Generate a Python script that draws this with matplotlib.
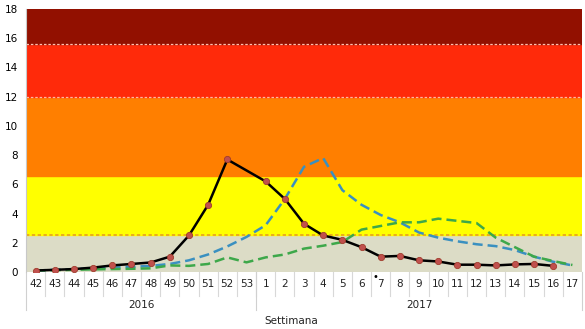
import matplotlib
matplotlib.use('Agg')
from matplotlib import pyplot as plt
import numpy as np

plt.rcParams['font.family'] = ['DejaVu Sans']

# settimane (asse x)
settimane = ['42', '43', '44', '45', '46', '47', '48', '49', '50', '51', '52', '53',
             '1', '2', '3', '4', '5', '6', '7', '8', '9', '10', '11', '12', '13',
             '14', '15', '16', '17']

# stagione corrente (linea nera), None = settimana senza dato
stagione_2016_17 = [0.1, 0.15, 0.2, 0.3, 0.45, 0.55, 0.65, 1.05, 2.5, 4.6, 7.7, None,
                    6.2, 5.0, 3.3, 2.5, 2.2, 1.7, 1.05, 1.1, 0.8, 0.72, 0.5, 0.5, 0.45,
                    0.52, 0.55, 0.42, None]

# stagioni precedenti (tratteggiate)
stagione_blu = [0.1, 0.15, 0.2, 0.25, 0.3, 0.35, 0.42, 0.55, 0.8, 1.2, 1.75, 2.4,
                3.2, 5.0, 7.2, 7.8, 5.6, 4.6, 3.9, 3.4, 2.7, 2.35, 2.1, 1.9, 1.77,
                1.5, 1.05, 0.7, 0.45]
stagione_verde = [0.1, 0.12, 0.15, 0.18, 0.2, 0.22, 0.25, 0.45, 0.42, 0.55, 1.0, 0.66,
                  1.0, 1.2, 1.6, 1.8, 2.05, 2.9, 3.15, 3.4, 3.4, 3.65, 3.5, 3.35, 2.35,
                  1.7, 1.05, 0.75, 0.48]

# soglie di intensita'
soglie = [0, 2.5, 6.6, 12, 15.6, 18]
colori_soglie = ['#dcdcc6', '#ffff00', '#ff7f00', '#ff2a0a', '#921000']

fig = plt.figure(figsize=(5.85, 3.29), dpi=100)
ax = fig.add_axes([26 / 585, 1 - 272 / 329, 556 / 585, 263 / 329])

for lo, hi, c in zip(soglie[:-1], soglie[1:], colori_soglie):
    ax.axhspan(lo, hi, color=c, zorder=0)
ax.axhline(2.5, color='#e8a020', lw=1.2, ls=(0, (2, 1.5)), zorder=1)
ax.axhline(12, color='#ffb8a0', lw=0.9, ls=(0, (2, 1.5)), zorder=1)
ax.axhline(15.6, color='#ffc0b0', lw=0.9, ls=(0, (2, 1.5)), zorder=1)

x = np.arange(len(settimane))
ax.plot(x, stagione_blu, color='#3a90c0', lw=1.8, ls=(0, (4, 2)), zorder=2)
ax.plot(x, stagione_verde, color='#3da84a', lw=1.8, ls=(0, (4, 2)), zorder=2)

y_cur = np.array([np.nan if v is None else v for v in stagione_2016_17])
ok = ~np.isnan(y_cur)
ax.plot(x[ok], y_cur[ok], color='black', lw=1.8, zorder=3)
ax.plot(x[ok], y_cur[ok], 'o', ms=4.5, mfc='#c0504d', mec='#a03c2c', mew=0.6, zorder=4)

ax.set_xlim(-0.5, len(settimane) - 0.5)
ax.set_ylim(0, 18)
ax.set_yticks(range(0, 19, 2))
ax.tick_params(axis='y', length=0, labelsize=7.5, pad=6)
ax.set_xticks([])
for s in ['top', 'right', 'bottom']:
    ax.spines[s].set_visible(False)
ax.spines['left'].set_color('#c8c8c8')

# asse categorie a due livelli
tr = ax.get_xaxis_transform()
for i, lab in enumerate(settimane):
    ax.text(i, -0.045, lab, transform=tr, ha='center', va='center', fontsize=7.5, color='#222222')
for i in range(1, len(settimane)):
    ax.plot([i - 0.5, i - 0.5], [0, -0.09], transform=tr, color='#d8d8d8', lw=0.8, clip_on=False)
for xb in [-0.5, 11.5, len(settimane) - 0.5]:
    ax.plot([xb, xb], [0, -0.145], transform=tr, color='#d0d0d0', lw=0.8, clip_on=False)
ax.text(5.5, -0.125, '2016', transform=tr, ha='center', va='center', fontsize=7.5, color='#222222')
ax.text(20.0, -0.125, '2017', transform=tr, ha='center', va='center', fontsize=7.5, color='#222222')
ax.text(291 / 585, 1 - 321 / 329, 'Settimana', transform=fig.transFigure,
        ha='center', va='center', fontsize=7.5, color='#222222')
ax.text(17.7, -0.02, '•', transform=tr, ha='center', va='center', fontsize=7, color='black')

plt.savefig('out.png', dpi=100)
